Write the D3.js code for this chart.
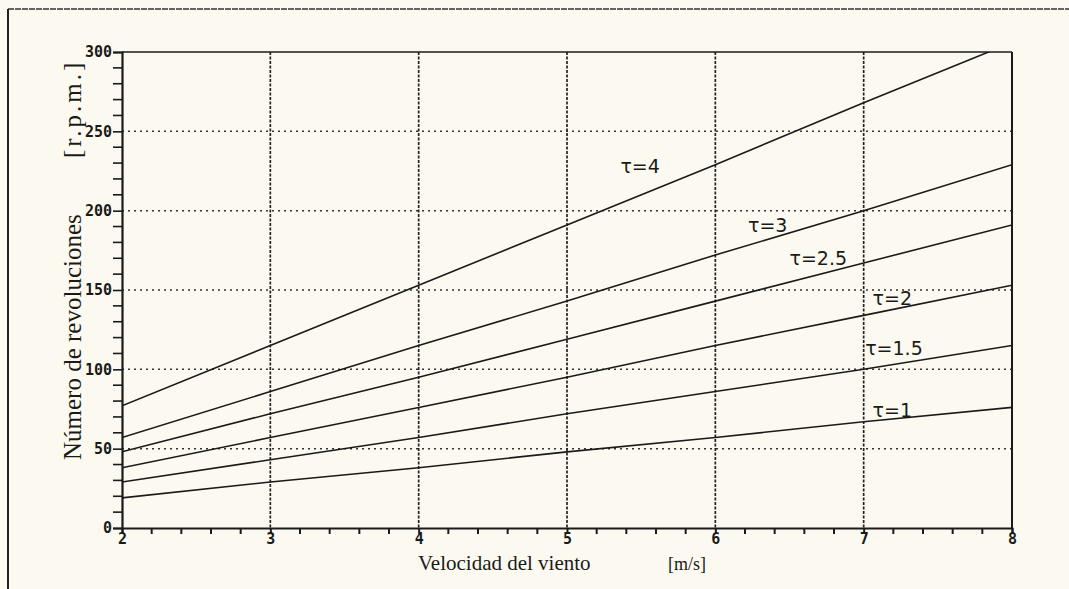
<!DOCTYPE html>
<html><head><meta charset="utf-8">
<script src="https://cdn.jsdelivr.net/npm/d3@7"></script>
<style>html,body{margin:0;padding:0;background:#fcfaf0;}svg{display:block;}</style>
</head><body>
<svg id="c" width="1069" height="589"></svg>
<script>
const windSpeeds = [2, 3, 4, 5, 6, 7, 8];
const tauLabels = ["τ=1", "τ=1.5", "τ=2", "τ=2.5", "τ=3", "τ=4"];
const rpmTau1   = [19, 29, 38, 48, 57, 67, 76];
const rpmTau15  = [29, 43, 57, 72, 86, 100, 115];
const rpmTau2   = [38, 57, 76, 95, 115, 134, 153];
const rpmTau25  = [48, 72, 95, 119, 143, 167, 191];
const rpmTau3   = [57, 86, 115, 143, 172, 200, 229];
const rpmTau4   = [77, 115, 153, 191, 229, 268, 306];
const xTicks = [2, 3, 4, 5, 6, 7, 8];
const yTicks = [0, 50, 100, 150, 200, 250, 300];
const xTitle = "Velocidad del viento";
const xUnit = "[m/s]";
const yTitle = "Número de revoluciones";
const yUnit = "[r.p.m.]";

const series = [rpmTau1, rpmTau15, rpmTau2, rpmTau25, rpmTau3, rpmTau4];
// label anchors in data coords (v, rpm)
const labelAnchors = [[7.06, 70], [7.01, 109], [7.06, 140.5], [6.5, 165.5], [6.22, 186.5], [5.36, 224]];

const svg = d3.select("#c");
const L = 122, R = 1012, T = 52, B = 528;
const x = d3.scaleLinear().domain([2, 8]).range([L, R]);
const y = d3.scaleLinear().domain([0, 300]).range([B, T]);
const ink = "#1a1a1a";

// outer frame
svg.append("line").attr("x1", 8).attr("x2", 1069).attr("y1", 9).attr("y2", 9).attr("stroke", "#333").attr("stroke-width", 1.5).attr("stroke-dasharray", "6,1");
svg.append("line").attr("x1", 8).attr("x2", 8).attr("y1", 9).attr("y2", 589).attr("stroke", "#222").attr("stroke-width", 2);

// horizontal dotted gridlines
svg.append("g").selectAll("line").data(yTicks.filter(d => d > 0 && d < 300)).join("line")
  .attr("x1", L).attr("x2", R).attr("y1", d => y(d)).attr("y2", d => y(d))
  .attr("stroke", "#333").attr("stroke-width", 1.5).attr("stroke-dasharray", "2,4");
// vertical gridlines
svg.append("g").selectAll("line").data(xTicks.filter(d => d > 2 && d < 8)).join("line")
  .attr("x1", d => x(d)).attr("x2", d => x(d)).attr("y1", T).attr("y2", B)
  .attr("stroke", "#222").attr("stroke-width", 1.7).attr("stroke-dasharray", "3,1.5");

// frame of plot
svg.append("line").attr("x1", L).attr("x2", R).attr("y1", T).attr("y2", T).attr("stroke", ink).attr("stroke-width", 1.6);
svg.append("line").attr("x1", R).attr("x2", R).attr("y1", T).attr("y2", B).attr("stroke", ink).attr("stroke-width", 2);

// axes
const xAxis = d3.axisBottom(x).tickValues(xTicks).tickSize(6).tickFormat(d3.format("d"));
const gx = svg.append("g").attr("transform", `translate(0,${B})`).call(xAxis);
gx.select(".domain").attr("stroke", ink).attr("stroke-width", 2);
gx.selectAll(".tick line").attr("stroke", ink).attr("stroke-width", 2);
gx.selectAll("text").attr("font-family", "DejaVu Sans Mono").attr("font-weight", "bold").attr("font-size", 15).attr("fill", ink).attr("dy", "0.45em");
// minor x ticks
svg.append("g").selectAll("line").data(d3.range(2, 8.001, 0.2).filter(v => Math.abs(v - Math.round(v)) > 0.01)).join("line")
  .attr("x1", d => x(d)).attr("x2", d => x(d)).attr("y1", B).attr("y2", B + 6).attr("stroke", ink).attr("stroke-width", 2);

const yAxis = d3.axisLeft(y).tickValues(yTicks).tickSize(9).tickFormat(d3.format("d"));
const gy = svg.append("g").attr("transform", `translate(${L},0)`).call(yAxis);
gy.select(".domain").attr("stroke", ink).attr("stroke-width", 2.2);
gy.selectAll(".tick line").attr("stroke", ink).attr("stroke-width", 1.6);
gy.selectAll("text").attr("font-family", "DejaVu Sans Mono").attr("font-weight", "bold").attr("font-size", 15).attr("fill", ink).attr("x", -10);
svg.append("g").selectAll("line").data(d3.range(0, 300, 10).filter(v => v % 50 !== 0)).join("line")
  .attr("x1", L - 9).attr("x2", L).attr("y1", d => y(d)).attr("y2", d => y(d)).attr("stroke", ink).attr("stroke-width", 1.6);

// curves
svg.append("clipPath").attr("id", "clip").append("rect").attr("x", L).attr("y", T).attr("width", R - L).attr("height", B - T);
const line = d3.line().x((d, i) => x(windSpeeds[i])).y(d => y(d));
svg.append("g").attr("clip-path", "url(#clip)").selectAll("path").data(series).join("path")
  .attr("d", line).attr("fill", "none").attr("stroke", ink).attr("stroke-width", 1.6);

// curve labels
svg.append("g").selectAll("text").data(tauLabels).join("text")
  .attr("x", (d, i) => x(labelAnchors[i][0])).attr("y", (d, i) => y(labelAnchors[i][1]))
  .attr("font-family", "DejaVu Sans").attr("font-size", 19).attr("fill", ink).text(d => d);

// axis titles
svg.append("text").attr("x", 418).attr("y", 570).attr("font-family", "Liberation Serif").attr("font-size", 21).attr("fill", ink).text(xTitle);
svg.append("text").attr("x", 668).attr("y", 570).attr("font-family", "Liberation Serif").attr("font-size", 18).attr("fill", ink).text(xUnit);
svg.append("text").attr("transform", "translate(81,460) rotate(-90)").attr("font-family", "Liberation Serif").attr("font-size", 25).attr("fill", ink).text(yTitle);
svg.append("text").attr("transform", "translate(81,158) rotate(-90)").attr("font-family", "Liberation Serif").attr("font-size", 25).attr("letter-spacing", 3).attr("fill", ink).text(yUnit);
</script>
</body></html>
